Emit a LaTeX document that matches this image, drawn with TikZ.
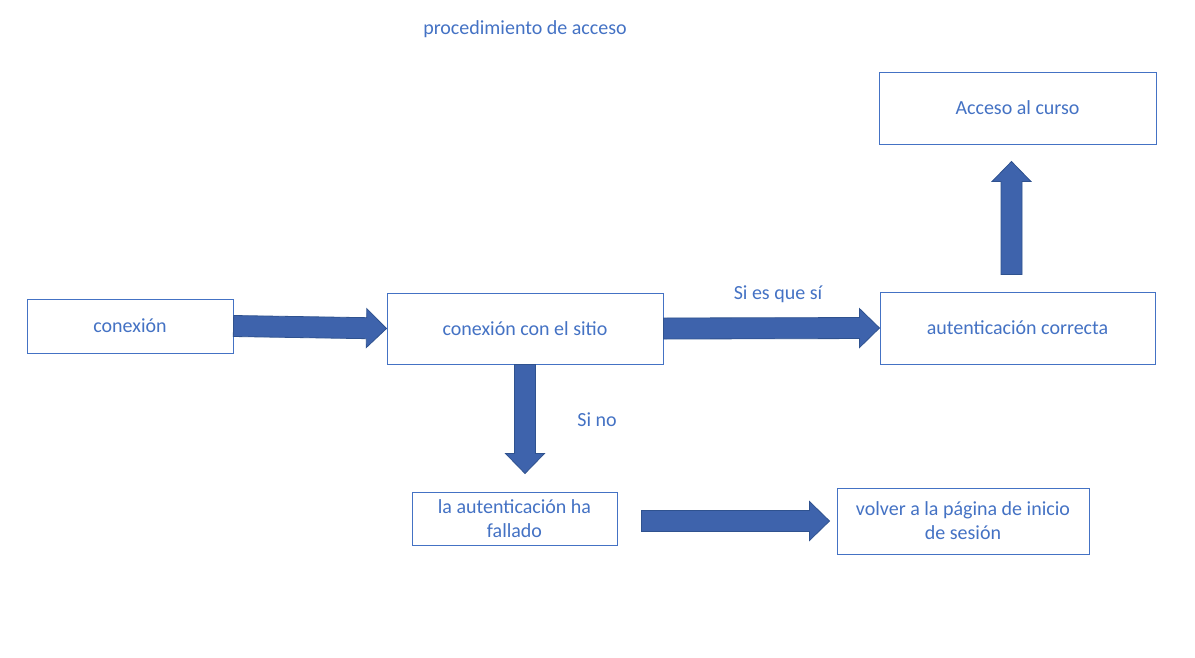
\documentclass[tikz,border=0pt]{standalone}
\usepackage{fontspec}
\setmainfont{Carlito}
\usetikzlibrary{calc}
\definecolor{txtblue}{HTML}{4472C4}
\definecolor{arrfill}{HTML}{3E63AC}
\definecolor{arrline}{HTML}{2F528F}
\tikzset{
  box/.style={draw=txtblue, line width=1pt, fill=white, text=txtblue, align=center, inner sep=0pt,
    font=\fontsize{20}{24}\selectfont},
  lbl/.style={text=txtblue, inner sep=0pt, font=\fontsize{20}{24}\selectfont},
  blk/.style={fill=arrfill, draw=arrline, line width=0.8pt, line join=miter}
}
\newcommand{\blockarrow}[2]{%
  \coordinate (ha) at ($(#2)!20pt!(#1)$);
  \path[blk] ($(#1)!10.5pt!90:(#2)$) -- ($(ha)!10.5pt!-90:(#1)$) -- ($(ha)!19.5pt!-90:(#1)$)
    -- (#2) -- ($(ha)!19.5pt!90:(#1)$) -- ($(ha)!10.5pt!90:(#1)$) -- ($(#1)!10.5pt!-90:(#2)$) -- cycle;
}
\begin{document}
\begin{tikzpicture}[x=1pt,y=-1pt]
\useasboundingbox (0,0) rectangle (1195,657);
\node[lbl] (title) at (525,29) {procedimiento de acceso};
\node[box, minimum width=206pt, minimum height=54pt] (cx) at (130,326) {conexión};
\node[box, minimum width=276pt, minimum height=71pt] (cs) at (525,328.5) {conexión con el sitio};
\node[box, minimum width=275pt, minimum height=72pt] (ac) at (1017.5,328) {autenticación correcta};
\node[box, minimum width=277pt, minimum height=72pt] (ca) at (1017.5,108) {Acceso al curso};
\node[box, minimum width=205pt, minimum height=53pt] (fa) at (514.5,518.5) {la autenticación ha\\fallado};
\node[box, minimum width=252pt, minimum height=66pt] (vp) at (963,521) {volver a la página de inicio\\de sesión};
\node[lbl] (si) at (778,294) {Si es que sí};
\node[lbl] (no) at (597,420) {Si no};
% connector end points
\coordinate (a1s) at (cx.east);
\coordinate (a1e) at (cs.west);
\coordinate (a2s) at (cs.east);
\coordinate (a2e) at (ac.west);
\coordinate (a3s) at (cs.south);
\coordinate (a3e) at ([yshift=18pt]fa.north -| cs.south);
\coordinate (a4s) at ([yshift=17pt,xshift=-6pt]ac.north);
\coordinate (a4e) at ([yshift=-17pt,xshift=-6pt]ca.south);
\coordinate (a5s) at ([xshift=24pt,yshift=-2.5pt]fa.east);
\coordinate (a5e) at ([xshift=-7pt]vp.west);
\blockarrow{a1s}{a1e}
\blockarrow{a2s}{a2e}
\blockarrow{a3s}{a3e}
\blockarrow{a4s}{a4e}
\blockarrow{a5s}{a5e}
\end{tikzpicture}
\end{document}
